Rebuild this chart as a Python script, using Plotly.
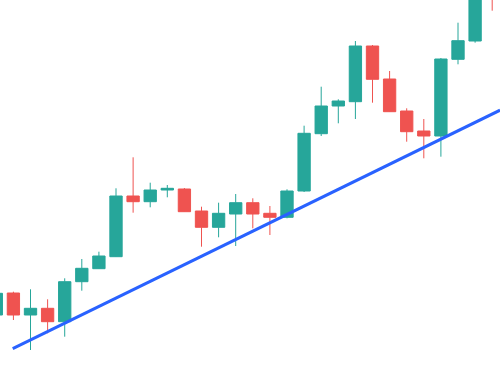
import plotly.graph_objects as go

# Candle index and OHLC values
idx = list(range(30))
opens = [53, 75, 53, 59.7, 46.3, 86.3, 99.3, 111.3, 172, 166.3, 178, 179, 157, 140.7, 154, 165.3, 154.7, 150.7, 177, 234.3, 262, 266.3, 322, 289, 257, 237, 232, 308.7, 327, 408]
highs = [77, 76.3, 78.7, 68.7, 89.7, 109, 116.3, 179.7, 210.7, 185.3, 183, 180, 161.3, 165.3, 174, 169.7, 162, 178.7, 242.3, 281.3, 268.7, 327, 323, 297, 259.7, 249, 310, 345.3, 398, 418]
lows = [50, 48, 18, 34.7, 31.3, 77.3, 99, 111, 155.3, 160.7, 170.7, 156, 121.3, 130.7, 122, 139.7, 133, 149.7, 176, 232, 244.7, 249, 265.3, 256, 226.3, 209.7, 211.3, 303.7, 325.3, 357.3]
closes = [74.7, 53, 59.7, 46.3, 86.3, 99.7, 112, 172, 166.3, 178, 179.7, 156.3, 140.7, 154.7, 165.3, 154, 150.7, 177, 234.7, 262, 267, 322, 288.7, 256.3, 236.3, 232, 309, 327.3, 388, 371]

# Trendline end points (index, value)
trend_x = [0.96, 29.46]
trend_y = [19.3, 257.8]

UP = "#26a69a"
DOWN = "#ef5350"

fig = go.Figure()
fig.add_trace(go.Candlestick(
    x=idx, open=opens, high=highs, low=lows, close=closes,
    increasing=dict(line=dict(color=UP, width=1), fillcolor=UP),
    decreasing=dict(line=dict(color=DOWN, width=1), fillcolor=DOWN),
    whiskerwidth=0, hoverinfo="skip",
))
fig.add_trace(go.Scatter(
    x=trend_x, y=trend_y, mode="lines",
    line=dict(color="#2962ff", width=3), hoverinfo="skip",
))

fig.update_layout(
    width=500, height=368,
    margin=dict(l=0, r=0, t=0, b=0),
    paper_bgcolor="white", plot_bgcolor="white",
    showlegend=False, boxgap=0.28, boxgroupgap=0,
    xaxis=dict(range=[0.216, 29.456], visible=False, rangeslider=dict(visible=False), fixedrange=True),
    yaxis=dict(range=[0, 368], visible=False, fixedrange=True),
)

fig.write_html("out.html", config={"displayModeBar": False})
